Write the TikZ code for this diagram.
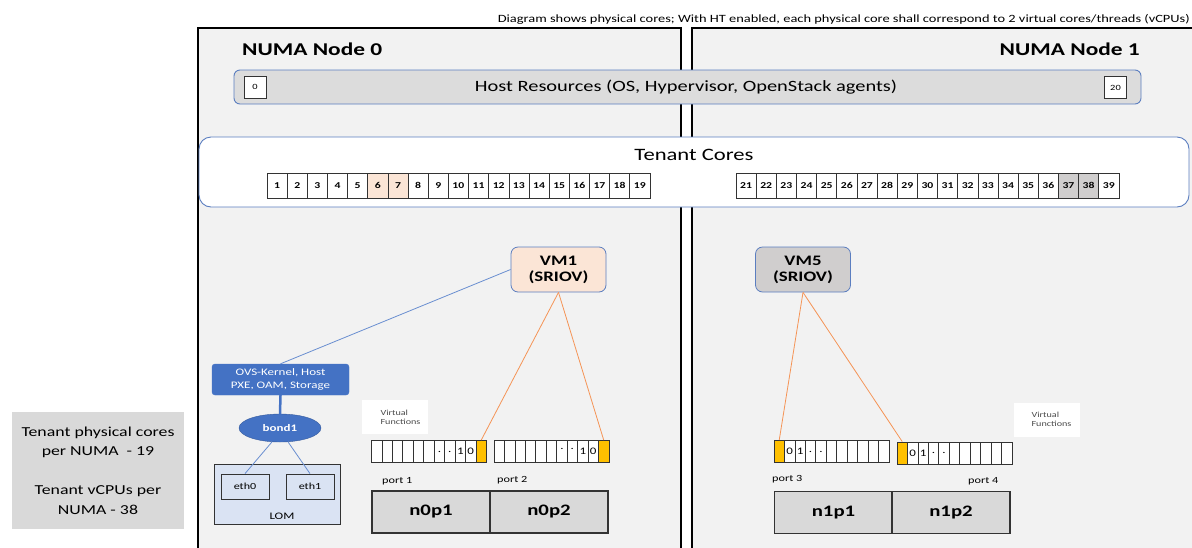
\documentclass[tikz,border=0pt]{standalone}
\usepackage{fontspec}
\setmainfont{Carlito}[FakeStretch=1.3]
\usetikzlibrary{shapes.geometric}
\definecolor{numafill}{HTML}{F2F2F2}
\definecolor{hostfill}{HTML}{DCDCDC}
\definecolor{frameblue}{HTML}{5B7EC0}
\definecolor{peach}{HTML}{FBE5D6}
\definecolor{vmgray}{HTML}{D0CECE}
\definecolor{ovsblue}{HTML}{4472C4}
\definecolor{lomblue}{HTML}{DAE3F3}
\definecolor{vforange}{HTML}{FFC000}
\definecolor{linkorange}{HTML}{F4A460}
\definecolor{portgray}{HTML}{D9D9D9}
\definecolor{notegray}{HTML}{D9D9D9}
\tikzset{
  numabox/.style={draw=black, line width=2pt, fill=numafill},
  corecell/.style={draw=black!80, line width=0.6pt, fill=white, minimum width=20.15pt, minimum height=25pt, inner sep=0pt, font=\fontsize{9}{10}\selectfont\bfseries},
  vfcell/.style={draw=black!80, line width=0.8pt, fill=white, minimum width=10.45pt, minimum height=22pt, inner sep=0pt, font=\fontsize{10}{11}\selectfont},
  vmbox/.style={draw=frameblue, line width=0.8pt, rounded corners=7pt, minimum width=95pt, minimum height=45pt, align=center, inner sep=0pt, font=\fontsize{14.5}{16}\selectfont\bfseries},
  portbox/.style={draw=black!80, line width=1.6pt, fill=portgray, minimum width=118pt, minimum height=42pt, inner sep=0pt, font=\fontsize{16}{18}\selectfont\bfseries},
  ethbox/.style={draw=black!80, line width=0.8pt, fill=lomblue, minimum width=48pt, minimum height=25pt, inner sep=0pt, font=\fontsize{9.3}{10}\selectfont},
  smalllbl/.style={font=\fontsize{9.4}{10}\selectfont, inner sep=0pt},
  vflbl/.style={fill=white, minimum width=66pt, minimum height=34pt, align=left, font=\fontsize{7.8}{10}\selectfont\color{black!70}, inner sep=0pt},
  bluelink/.style={draw=ovsblue!80, line width=0.8pt},
  orangelink/.style={draw=linkorange!90!red, line width=0.8pt},
  numbox/.style={draw=black!80, line width=0.6pt, fill=white, minimum width=22pt, minimum height=22pt, inner sep=0pt, font=\fontsize{8}{9}\selectfont}
}
\begin{document}
\begin{tikzpicture}[x=1pt,y=-1pt]
\useasboundingbox (0,0) rectangle (1192,547);
\clip (0,0) rectangle (1192,547);
\fill[white] (0,0) rectangle (1192,547);

% NUMA boxes
\path[numabox] (198,28) rectangle (681,560);
\path[numabox] (692,28) rectangle (1200,560);

% top note
\node[anchor=east, inner sep=0pt, font=\fontsize{11.1}{12}\selectfont] (note) at (1190,19) {Diagram shows physical cores; With HT enabled, each physical core shall correspond to 2 virtual cores/threads (vCPUs)};

% NUMA titles
\node[anchor=west, inner sep=0pt, font=\fontsize{18}{20}\selectfont\bfseries] (n0) at (242,49) {NUMA Node 0};
\node[anchor=east, inner sep=0pt, font=\fontsize{18}{20}\selectfont\bfseries] (n1) at (1140,49) {NUMA Node 1};

% Host resources
\draw[draw=frameblue, line width=0.9pt, fill=hostfill, rounded corners=6pt] (234,70) rectangle (1141,104);
\node[font=\fontsize{15.7}{17}\selectfont, inner sep=0pt] (host) at (686,87) {Host Resources (OS, Hypervisor, OpenStack agents)};
\node[numbox] (h0) at (255,87) {0};
\node[numbox, anchor=center] (h20) at (1115.5,87.5) {20};

% Tenant cores
\draw[draw=frameblue, line width=0.9pt, fill=white, rounded corners=12pt] (199,137) rectangle (1189,207);
\node[font=\fontsize{17.4}{19}\selectfont, inner sep=0pt] (tc) at (694,155) {Tenant Cores};
\foreach \i in {1,...,19} {
  \pgfmathsetmacro{\cx}{267+20.15*(\i-0.5)}
  \ifnum\i=6 \def\cf{peach}\else\ifnum\i=7 \def\cf{peach}\else\def\cf{white}\fi\fi
  \node[corecell, fill=\cf] (c\i) at (\cx,185.5) {\i};
}
\foreach \i in {21,...,39} {
  \pgfmathsetmacro{\cx}{736+20.15*(\i-20.5)}
  \ifnum\i=37 \def\cf{vmgray}\else\ifnum\i=38 \def\cf{vmgray}\else\def\cf{white}\fi\fi
  \node[corecell, fill=\cf] (c\i) at (\cx,185.5) {\i};
}

% VMs
\node[vmbox, fill=peach] (vm1) at (558.5,269.5) {VM1\\(SRIOV)};
\node[vmbox, fill=vmgray] (vm5) at (803,269.5) {VM5\\(SRIOV)};

% OVS, bond, LOM
\node[draw=ovsblue, fill=ovsblue, rounded corners=3pt, minimum width=137pt, minimum height=31pt, inner sep=0pt, align=center, text=white, font=\fontsize{10}{12.5}\selectfont] (ovs) at (280.5,379.5) {OVS-Kernel, Host\\PXE, OAM, Storage};
\node[ellipse, draw=ovsblue!80!black, fill=ovsblue, minimum width=82pt, minimum height=28pt, inner sep=0pt, text=white, font=\fontsize{10}{12}\selectfont\bfseries] (bond) at (280,428) {bond1};
\draw[ovsblue, line width=2.5pt] (ovs.south) -- (bond.north);
\node[draw=black!80, line width=0.8pt, fill=lomblue, minimum width=126pt, minimum height=60pt, inner sep=0pt] (lom) at (277,494) {};
\node[font=\fontsize{10}{11}\selectfont, inner sep=0pt] (lomlbl) at (282,516) {LOM};
\node[ethbox] (eth0) at (245,486.5) {eth0};
\node[ethbox] (eth1) at (310,486.5) {eth1};
\draw[bluelink] (bond.240) -- (eth0.north);
\draw[bluelink] (bond.300) -- (eth1.north);
\draw[bluelink] (vm1.west) -- (ovs.north);

% Virtual function labels
\node[vflbl] (vfl0) at (395,417) {\hspace*{11pt}Virtual\\[-1pt]\hspace*{11pt}Functions};
\node[vflbl] (vfl1) at (1046.5,419.5) {\hspace*{10pt}Virtual\\[-1pt]\hspace*{10pt}Functions};

% Port 1 VFs
\foreach \t [count=\k] in {{},{},{},{},{},{},{.},{.},{1},{0},{}} {
  \pgfmathsetmacro{\cx}{371.5+10.45*(\k-0.5)}
  \ifnum\k=11 \def\cf{vforange}\else\def\cf{white}\fi
  \node[vfcell, fill=\cf] (pa\k) at (\cx,451.5) {\t};
}
% Port 2 VFs
\foreach \t [count=\k] in {{},{},{},{},{},{},{\raisebox{5pt}{.}},{\raisebox{5pt}{.}},{1},{0},{}} {
  \pgfmathsetmacro{\cx}{494+10.45*(\k-0.5)}
  \ifnum\k=11 \def\cf{vforange}\else\def\cf{white}\fi
  \node[vfcell, fill=\cf] (pb\k) at (\cx,451.5) {\t};
}
% Port 3 VFs
\foreach \t [count=\k] in {{},{0},{1},{.},{.},{},{},{},{},{},{}} {
  \pgfmathsetmacro{\cx}{774+10.45*(\k-0.5)}
  \ifnum\k=1 \def\cf{vforange}\else\def\cf{white}\fi
  \node[vfcell, fill=\cf] (pc\k) at (\cx,451.5) {\t};
}
% Port 4 VFs
\foreach \t [count=\k] in {{},{0},{1},{.},{.},{},{},{},{},{},{}} {
  \pgfmathsetmacro{\cx}{897+10.45*(\k-0.5)}
  \ifnum\k=1 \def\cf{vforange}\else\def\cf{white}\fi
  \node[vfcell, fill=\cf] (pd\k) at (\cx,453) {\t};
}

% VM links
\draw[orangelink] (vm1.south) -- (pa11.north);
\draw[orangelink] (vm1.south) -- (pb11.north);
\draw[orangelink] (vm5.south) -- (pc1.north);
\draw[orangelink] (vm5.south) -- (pd1.north);

% port labels
\node[smalllbl, anchor=west] (l1) at (382,481) {port 1};
\node[smalllbl, anchor=west] (l2) at (497,480) {port 2};
\node[smalllbl, anchor=west] (l3) at (772,479) {port 3};
\node[smalllbl, anchor=west] (l4) at (968,481) {port 4};

% NIC ports
\node[portbox] (n0p1) at (431,512) {n0p1};
\node[portbox] (n0p2) at (549,512) {n0p2};
\node[portbox] (n1p1) at (833.5,512.5) {n1p1};
\node[portbox] (n1p2) at (951,512.5) {n1p2};

% Summary box
\node[fill=notegray, minimum width=172pt, minimum height=117pt, inner sep=0pt, align=center, font=\fontsize{13.7}{19.5}\selectfont] (summary) at (98,470.5) {Tenant physical cores\\per NUMA\ \ - 19\\[19.5pt]Tenant vCPUs per\\NUMA - 38};
\end{tikzpicture}
\end{document}
